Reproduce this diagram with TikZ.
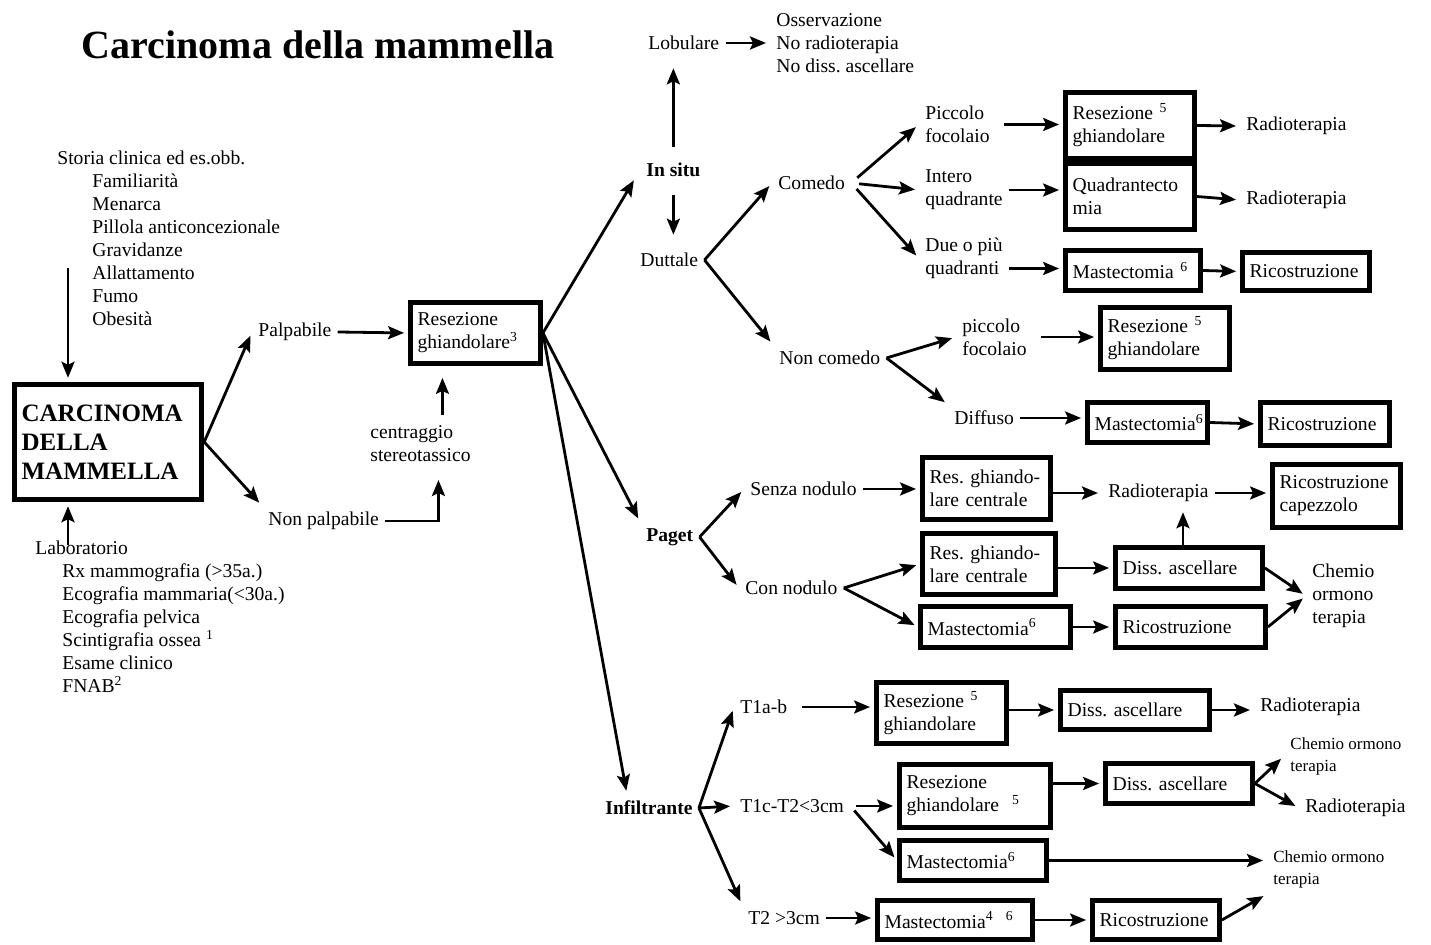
\documentclass[tikz,border=0pt]{standalone}
\usepackage{fontspec}
\setmainfont{Liberation Serif}
\usetikzlibrary{arrows.meta}

\begin{document}
\frenchspacing
\begin{tikzpicture}[x=0.5pt, y=-0.5pt,
    txt/.style={font=\fontsize{9.8}{11.5}\selectfont, align=left, inner sep=3pt, anchor=west},
    hd/.style={txt, font=\fontsize{9.8}{11.5}\selectfont\bfseries},
    sm/.style={txt, font=\fontsize{8.5}{11}\selectfont},
    bx/.style={draw, line width=2.5pt, font=\fontsize{9.8}{11.5}\selectfont, align=left, inner xsep=3.5pt, inner ysep=1pt},
    arr/.style={-{Stealth[length=8pt, width=6.5pt, inset=1.5pt]}, line width=1.4pt, shorten >=2pt}]
\useasboundingbox (0,0) rectangle (1431,945);

% Title
\node[font=\fontsize{20}{24}\selectfont\bfseries] (title) at (318,45) {Carcinoma della mammella};

% Anamnesi, laboratorio
\node[txt] (storia) at (51,238) {Storia clinica ed es.obb.\\\hspace*{17.5pt}Familiarità\\\hspace*{17.5pt}Menarca\\\hspace*{17.5pt}Pillola anticoncezionale\\\hspace*{17.5pt}Gravidanze\\\hspace*{17.5pt}Allattamento\\\hspace*{17.5pt}Fumo\\\hspace*{17.5pt}Obesità};
\coordinate (storiaout) at (68,268);
\node[bx, line width=2.8pt, font=\fontsize{12.5}{14.5}\selectfont\bfseries, text width=86.4pt, minimum height=57.4pt] (main) at (108,442) {CARCINOMA\\DELLA\\MAMMELLA};
\node[txt] (lab) at (29,617) {Laboratorio\\\hspace*{13.5pt}Rx mammografia (>35a.)\\\hspace*{13.5pt}Ecografia mammaria(<30a.)\\\hspace*{13.5pt}Ecografia pelvica\\\hspace*{13.5pt}Scintigrafia ossea \textsuperscript{1}\\\hspace*{13.5pt}Esame clinico\\\hspace*{13.5pt}FNAB\textsuperscript{2}};
\coordinate (labin) at (68,545);

\draw[arr] (storiaout) -- (storiaout |- main.north);
\draw[arr] (labin) -- (labin |- main.south);

% Palpabile / non palpabile
\node[txt] (palp) at (252,332) {Palpabile};
\node[txt] (np) at (262,521) {Non palpabile};
\node[txt] (centr) at (364,443.5) {centraggio\\stereotassico};
\node[bx, text width=57.9pt, minimum height=30.4pt] (resA) at (475.5,333) {Resezione\\ghiandolare\textsuperscript{3}};

\draw[arr] (main.east) -- (palp.west);
\draw[arr] (main.east) -- (np.north west);
\draw[arr] (palp.east) -- (resA.west);
\draw[arr, shorten >=6pt] (np.east) -| ([xshift=9pt]centr.south);
\draw[arr, shorten >=6pt, shorten <=2pt] ([xshift=11pt]centr.north) -- ([xshift=11pt]centr.north |- resA.south);

% In situ
\node[hd] (insitu) at (640,170) {In situ};
\node[txt] (lob) at (642,43) {Lobulare};
\node[txt] (osserv) at (770,43) {Osservazione\\No radioterapia\\No diss. ascellare};
\node[txt] (dutt) at (634,260) {Duttale};
\node[txt] (comedo) at (772,183) {Comedo};
\node[txt] (noncom) at (773,358) {Non comedo};

\draw[arr, shorten >=6pt] (resA.east) -- (insitu.west);
\draw[arr, shorten >=6pt, shorten <=5pt] (insitu.north) -- (insitu.north |- lob.south);
\draw[arr, shorten >=6pt, shorten <=6pt] (insitu.south) -- (insitu.south |- dutt.north);
\draw[arr] (lob.east) -- (osserv.west);
\draw[arr] (dutt.east) -- (comedo.west);
\draw[arr] (dutt.east) -- (noncom.north west);

% Comedo
\node[txt] (picc) at (919,124.5) {Piccolo\\focolaio};
\node[txt] (intero) at (919,190) {Intero\\quadrante};
\node[txt] (due) at (919,258.5) {Due o più\\quadranti};
\node[bx, text width=57.4pt, minimum height=32.9pt] (resB) at (1130,125.5) {Resezione \textsuperscript{5}\\ghiandolare};
\node[bx, text width=57.4pt, minimum height=32.9pt] (quad) at (1130,196.5) {Quadrantecto\\mia};
\node[bx, text width=60.4pt, minimum height=19.9pt] (mastA) at (1133,270.5) {Mastectomia \textsuperscript{6}};
\node[bx, text width=56.4pt, minimum height=18.9pt] (ricA) at (1306,271.5) {Ricostruzione};
\node[txt] (radA) at (1240,126) {Radioterapia};
\node[txt] (radB) at (1240,200) {Radioterapia};

\draw[arr, shorten <=4pt] (comedo.east) -- (picc.west);
\draw[arr, shorten <=4pt] (comedo.east) -- (intero.west);
\draw[arr, shorten <=4pt] (comedo.east) -- (due.west);
\draw[arr, shorten <=4pt] (picc.east) -- (picc.east -| resB.west);
\draw[arr] (intero.east) -- (intero.east -| quad.west);
\draw[arr] ([yshift=-5pt]due.east) -- ([yshift=-5pt]due.east -| mastA.west);
\draw[arr] (resB.east) -- (radA.west);
\draw[arr] (quad.east) -- (radB.west);
\draw[arr] (mastA.east) -- (ricA.west);

% Non comedo
\node[txt] (piccB) at (956,337) {piccolo\\focolaio};
\node[txt] (diffuso) at (948,418) {Diffuso};
\node[bx, text width=57.4pt, minimum height=30.9pt] (resC) at (1165,338.5) {Resezione \textsuperscript{5}\\ghiandolare};
\node[bx, text width=52.9pt, minimum height=19.9pt] (mastB) at (1147.5,422.5) {Mastectomia\textsuperscript{6}};
\node[bx, text width=57.4pt, minimum height=21.4pt] (ricB) at (1325,424) {Ricostruzione};

\draw[arr] (noncom.east) -- (piccB.west);
\draw[arr] (noncom.east) -- (diffuso.north west);
\draw[arr, shorten <=4pt] (piccB.east) -- (piccB.east -| resC.west);
\draw[arr] (diffuso.east) -- (diffuso.east -| mastB.west);
\draw[arr] (mastB.east) -- (ricB.west);

% Paget
\node[hd] (paget) at (640,537) {Paget};
\node[txt] (senza) at (744,489) {Senza nodulo};
\node[txt] (con) at (739,588) {Con nodulo};
\node[bx, text width=56.9pt, minimum height=30.9pt] (rgcA) at (986.5,488.5) {Res. ghiando-\\lare centrale};
\node[txt] (radC) at (1102,493) {Radioterapia};
\node[bx, text width=56.9pt, minimum height=31.4pt] (ricCap) at (1336.5,496) {Ricostruzione\\capezzolo};
\node[bx, text width=59.4pt, minimum height=30.4pt] (rgcB) at (989,564) {Res. ghiando-\\lare centrale};
\node[bx, text width=67.9pt, minimum height=20.4pt] (mastC) at (995.5,627) {Mastectomia\textsuperscript{6}};
\node[bx, text width=66.4pt, minimum height=20.4pt] (dissA) at (1189,568) {Diss. ascellare};
\node[bx, text width=67.9pt, minimum height=20.4pt] (ricC) at (1190.5,627) {Ricostruzione};
\node[txt] (chemA) at (1306,596) {Chemio\\ormono\\terapia};

\draw[arr] (resA.east) -- (paget.north west);
\draw[arr] (paget.east) -- (senza.west);
\draw[arr] (paget.east) -- (con.west);
\draw[arr] (senza.east) -- (senza.east -| rgcA.west);
\draw[arr] (rgcA.east |- radC.west) -- (radC.west);
\draw[arr] (radC.east) -- (radC.east -| ricCap.west);
\draw[arr] (con.east) -- (rgcB.west);
\draw[arr] (con.east) -- (mastC.west);
\draw[arr] (rgcB.east |- dissA.west) -- (dissA.west);
\draw[arr] (mastC.east) -- (ricC.west);
\draw[arr] ([xshift=-3pt]dissA.north) -- ([xshift=-3pt]dissA.north |- radC.south);
\draw[arr] (dissA.east) -- (chemA.west);
\draw[arr] (ricC.east) -- (chemA.west);

% Infiltrante
\node[hd] (infil) at (599,808) {Infiltrante};
\node[txt] (t1ab) at (734,707) {T1a-b};
\node[txt] (t1c) at (734,806) {T1c-T2<3cm};
\node[txt] (t2) at (742,918) {T2 >3cm};
\node[bx, text width=57.9pt, minimum height=30.4pt] (resD) at (941.5,713) {Resezione \textsuperscript{5}\\ghiandolare};
\node[bx, text width=67.4pt, minimum height=19.4pt] (dissB) at (1135,710) {Diss. ascellare};
\node[txt] (radD) at (1254,707) {Radioterapia};
\node[bx, text width=68.4pt, minimum height=31.4pt] (resE) at (975,796) {Resezione\\ghiandolare \ \textsuperscript{5}};
\node[bx, text width=66.4pt, minimum height=19.9pt] (dissC) at (1179,783.5) {Diss. ascellare};
\node[sm] (chemB) at (1284,756) {Chemio ormono\\terapia};
\node[txt] (radE) at (1299,808) {Radioterapia};
\node[bx, text width=66.4pt, minimum height=19.9pt] (mastD) at (973,860.5) {Mastectomia\textsuperscript{6}};
\node[sm] (chemC) at (1267,869) {Chemio ormono\\terapia};
\node[bx, text width=70.4pt, minimum height=19.4pt] (mastE) at (955,920) {Mastectomia\textsuperscript{4 \ 6}};
\node[bx, text width=56.4pt, minimum height=19.4pt] (ricD) at (1156,920) {Ricostruzione};

\draw[arr] (resA.east) -- ([xshift=14pt]infil.north west);
\draw[arr] (infil.east) -- (t1ab.west);
\draw[arr] (infil.east) -- (t1c.west);
\draw[arr] (infil.east) -- (t2.north west);
\draw[arr, shorten <=4pt] (t1ab.east) -- (t1ab.east -| resD.west);
\draw[arr] (resD.east |- dissB.west) -- (dissB.west);
\draw[arr] (dissB.east) -- (dissB.east -| radD.west);
\draw[arr, shorten <=3pt] (t1c.east) -- (t1c.east -| resE.west);
\draw[arr, shorten <=3pt] (t1c.east) -- (mastD.west);
\draw[arr] (resE.east |- dissC.west) -- (dissC.west);
\draw[arr] (dissC.east) -- (chemB.west);
\draw[arr] (dissC.east) -- (radE.west);
\draw[arr] (mastD.east) -- (mastD.east -| chemC.west);
\draw[arr] (t2.east) -- (t2.east -| mastE.west);
\draw[arr] (mastE.east) -- (ricD.west);
\draw[arr] (ricD.east) -- (chemC.south west);
\end{tikzpicture}
\end{document}
